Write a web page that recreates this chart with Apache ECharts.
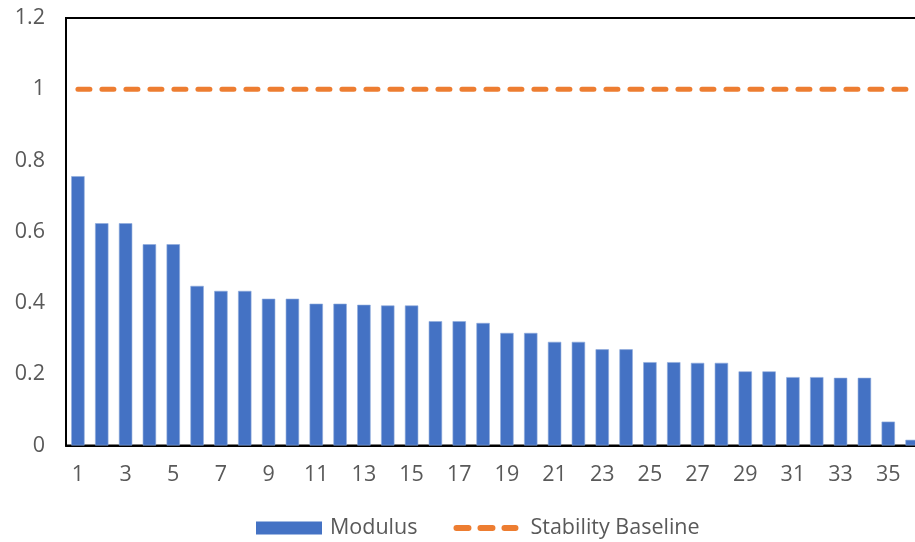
<!DOCTYPE html>
<html>
<head>
<meta charset="utf-8">
<script src="https://cdn.jsdelivr.net/npm/echarts@6/dist/echarts.min.js"></script>
<style>
  html, body { margin: 0; padding: 0; background: #fff; }
  #chart { width: 915px; height: 542px; }
</style>
</head>
<body>
<div id="chart"></div>
<script>
// Lag index 1..36
const categories = Array.from({ length: 36 }, (_, i) => String(i + 1));

// Modulus of each root
const modulus = [
  0.756, 0.624, 0.624, 0.565, 0.565, 0.448, 0.434, 0.434, 0.412, 0.412,
  0.398, 0.398, 0.395, 0.393, 0.393, 0.349, 0.349, 0.344, 0.316, 0.316,
  0.291, 0.291, 0.270, 0.270, 0.234, 0.234, 0.232, 0.232, 0.208, 0.208,
  0.192, 0.192, 0.190, 0.190, 0.067, 0.016
];

// Unit-circle stability threshold
const baseline = categories.map(() => 1);

const FONT = '"Open Sans", "Noto Sans", sans-serif';
const TEXT = '#595959';
const FS = 21.5;

// Legend glyph for the dashed baseline: three rounded bars; the bare moveTo
// points pad the path box so the bars sit centred in a 66x13 slot.
const DASH_ICON = 'path://M0,0 M66,13 ' +
  'M3,3.5A3,3 0 0 0 3,9.5H15A3,3 0 0 0 15,3.5Z ' +
  'M27,3.5A3,3 0 0 0 27,9.5H39A3,3 0 0 0 39,3.5Z ' +
  'M51,3.5A3,3 0 0 0 51,9.5H62A3,3 0 0 0 62,3.5Z';

const chart = echarts.init(document.getElementById('chart'), null, { renderer: 'canvas' });
chart.setOption({
  animation: false,
  backgroundColor: '#ffffff',
  grid: {
    left: 66, width: 858, top: 18, bottom: 96.5,
    outerBoundsMode: 'none',
    containLabel: false,
    show: true, borderColor: '#000000', borderWidth: 2, backgroundColor: 'transparent'
  },
  legend: {
    top: 517,
    left: 256,
    padding: 0,
    itemWidth: 66,
    itemHeight: 13,
    itemGap: 36,
    textStyle: { color: TEXT, fontSize: FS, fontFamily: FONT, padding: [0, 0, 0, 3] },
    data: [
      { name: 'Modulus', icon: 'rect', itemStyle: { color: '#4472C4', borderWidth: 0 } },
      {
        name: 'Stability Baseline', icon: DASH_ICON,
        itemStyle: { color: '#ED7D31', borderWidth: 0 },
        textStyle: { padding: [0, 0, 0, 6] }
      }
    ]
  },
  xAxis: {
    type: 'category',
    data: categories,
    boundaryGap: true,
    axisLine: { show: true, lineStyle: { color: '#000000', width: 2 } },
    axisTick: { show: false },
    axisLabel: { interval: 1, color: TEXT, fontSize: FS, fontFamily: FONT, margin: 18 },
    splitLine: { show: false }
  },
  yAxis: {
    type: 'value',
    min: 0, max: 1.2, interval: 0.2,
    axisLine: { show: true, lineStyle: { color: '#000000', width: 2 } },
    axisTick: { show: false },
    axisLabel: { color: TEXT, fontSize: FS, fontFamily: FONT, margin: 21 },
    splitLine: { show: false }
  },
  series: [
    {
      name: 'Modulus',
      type: 'bar',
      data: modulus,
      barWidth: '56%',
      itemStyle: { color: '#4472C4', borderColor: '#8fabdc', borderWidth: 0.6 }
    },
    {
      name: 'Stability Baseline',
      type: 'line',
      data: baseline,
      symbol: 'none',
      itemStyle: { color: '#ED7D31' },
      lineStyle: { color: '#ED7D31', width: 5, type: [12, 12], cap: 'round' },
      z: 3
    }
  ]
});
</script>
</body>
</html>
